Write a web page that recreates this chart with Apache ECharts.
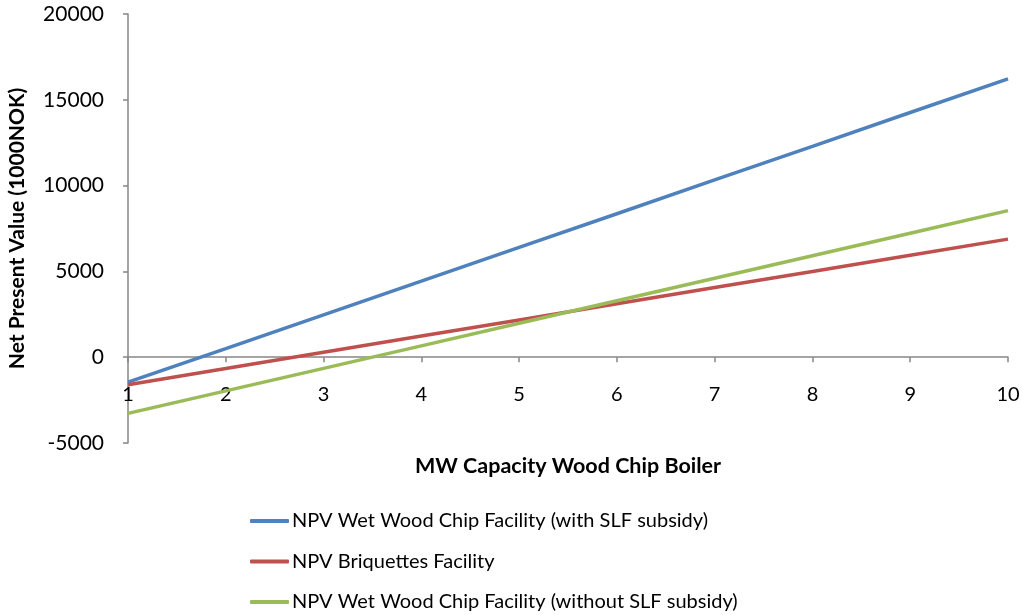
<!DOCTYPE html>
<html>
<head>
<meta charset="utf-8">
<script src="https://cdn.jsdelivr.net/npm/echarts@6/dist/echarts.min.js"></script>
<style>
html,body{margin:0;padding:0;background:#fff;}
#chart{width:1023px;height:615px;}
</style>
</head>
<body>
<div id="chart"></div>
<script>
var capacities = [1, 2, 3, 4, 5, 6, 7, 8, 9, 10];
var npvWetWithSubsidy = [-1450, 500, 2470, 4430, 6400, 8360, 10330, 12290, 14260, 16220];
var npvBriquettes = [-1600, -660, 290, 1230, 2170, 3110, 4060, 5000, 5940, 6880];
var npvWetWithoutSubsidy = [-3275, -1960, -650, 660, 1975, 3290, 4600, 5910, 7225, 8540];
var seriesNames = [
  'NPV Wet Wood Chip Facility (with SLF subsidy)',
  'NPV Briquettes Facility',
  'NPV Wet Wood Chip Facility (without SLF subsidy)'
];
var seriesColors = ['#4F81BD', '#C0504D', '#9BBB59'];
var yMin = -5000, yMax = 20000;

function pairs(vals) { return capacities.map(function (c, i) { return [c, vals[i]]; }); }

var FONT = 'Lato';
var axisGray = '#868686';
var gridTop = 14, gridBottom = 172, H = 615;
var plotH = H - gridTop - gridBottom;
// move the x axis up to the y = 0 line
var zeroOffset = -plotH * (0 - yMin) / (yMax - yMin);

var chart = echarts.init(document.getElementById('chart'), null, {renderer: 'canvas'});
var allVals = [npvWetWithSubsidy, npvBriquettes, npvWetWithoutSubsidy];
chart.setOption({
  animation: false,
  backgroundColor: '#ffffff',
  grid: {left: 128, right: 15, top: gridTop, bottom: gridBottom, containLabel: false,
    outerBoundsMode: 'none'},
  legend: {
    orient: 'vertical',
    left: 250,
    top: 511,
    height: 104,
    padding: 0,
    itemGap: 20.5,
    itemWidth: 39,
    itemHeight: 4,
    icon: 'roundRect',
    textStyle: {fontFamily: FONT, fontSize: 20, color: '#000', padding: [0, 0, 0, -2]},
    data: seriesNames
  },
  xAxis: {
    type: 'value',
    min: 1, max: 10, interval: 1,
    offset: zeroOffset,
    name: 'MW Capacity Wood Chip Boiler',
    nameLocation: 'middle',
    nameGap: 98,
    nameTextStyle: {fontFamily: FONT, fontSize: 21.5, fontWeight: 'bold', color: '#000'},
    axisLine: {onZero: false, lineStyle: {color: axisGray, width: 1.5}},
    axisTick: {show: true, length: 5, inside: false, lineStyle: {color: axisGray, width: 1.5}},
    axisLabel: {fontFamily: FONT, fontSize: 20, color: '#000', margin: 27},
    splitLine: {show: false}
  },
  yAxis: {
    type: 'value',
    min: yMin, max: yMax, interval: 5000,
    name: 'Net Present Value (1000NOK)',
    nameLocation: 'middle',
    nameGap: 100,
    nameRotate: 90,
    nameTextStyle: {fontFamily: FONT, fontSize: 21, fontWeight: 'bold', color: '#000'},
    axisLine: {show: true, onZero: false, lineStyle: {color: axisGray, width: 1.5}},
    axisTick: {show: true, length: 5, lineStyle: {color: axisGray, width: 1.5}},
    axisLabel: {fontFamily: FONT, fontSize: 21, color: '#000', margin: 24,
      formatter: function (v) { return String(v); }},
    splitLine: {show: false}
  },
  series: seriesNames.map(function (n, i) {
    return {
      name: n,
      type: 'line',
      data: pairs(allVals[i]),
      symbol: 'none',
      smooth: false,
      lineStyle: {color: seriesColors[i], width: 3.5},
      itemStyle: {color: seriesColors[i]}
    };
  })
});
</script>
</body>
</html>
